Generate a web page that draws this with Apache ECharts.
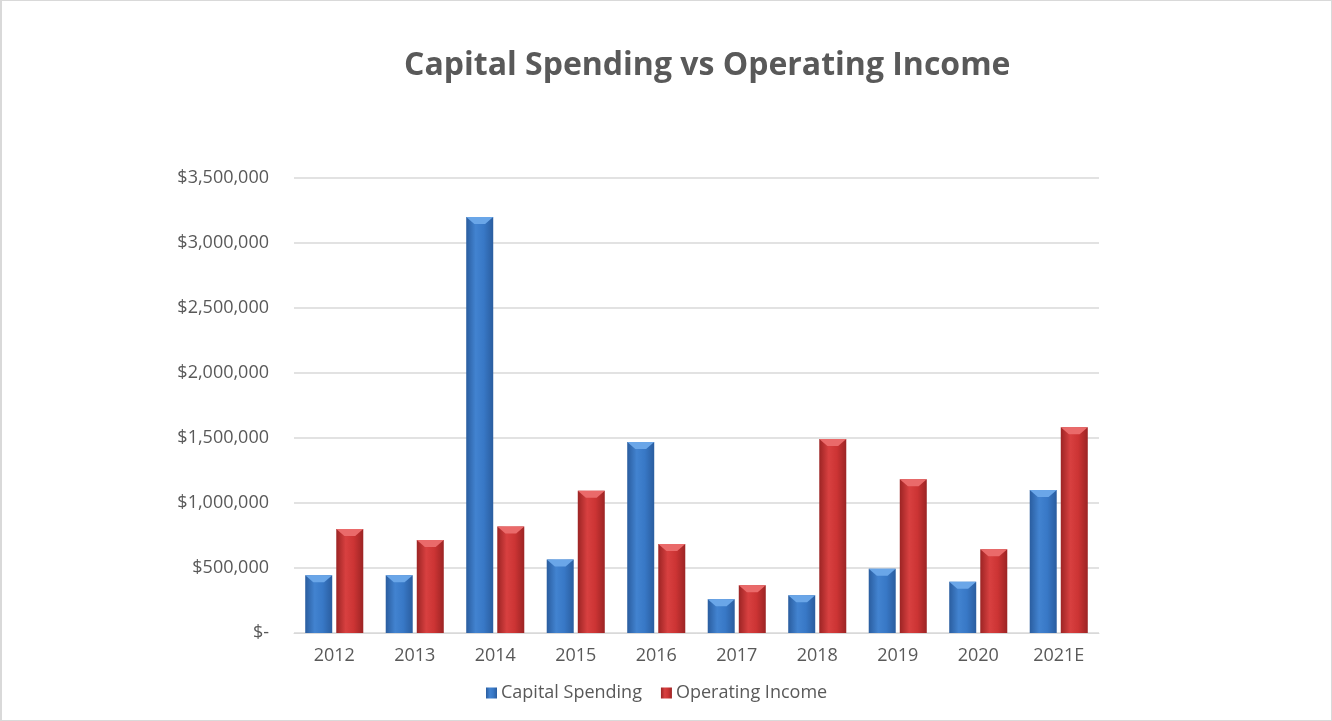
<!DOCTYPE html>
<html>
<head>
<meta charset="utf-8">
<script src="https://cdn.jsdelivr.net/npm/echarts@6/dist/echarts.min.js"></script>
<style>
  html, body { margin: 0; padding: 0; background: #ffffff; }
  #chart { width: 1332px; height: 721px; box-sizing: border-box; border: 1px solid #d9d9d9; border-left-width: 2px; }
</style>
</head>
<body>
<div id="chart"></div>
<script>
// Years on the category axis
const years = ['2012', '2013', '2014', '2015', '2016', '2017', '2018', '2019', '2020', '2021E'];
// Annual capital spending ($)
const capitalSpending = [445000, 445000, 3200000, 565000, 1470000, 260000, 290000, 495000, 395000, 1100000];
// Annual operating income ($)
const operatingIncome = [800000, 715000, 820000, 1095000, 685000, 368000, 1492000, 1182000, 645000, 1582000];
// Value axis ticks
const yMax = 3500000;
const yStep = 500000;

const FONT = '"Open Sans", Lato, sans-serif';
const TEXT = '#595959';

function sideGradient(edge, mid, light) {
  return new echarts.graphic.LinearGradient(0, 0, 1, 0, [
    { offset: 0, color: edge },
    { offset: 0.35, color: light },
    { offset: 0.65, color: mid },
    { offset: 1, color: edge }
  ]);
}

const blueFill = sideGradient('#2a5d9f', '#3878c6', '#4283d0');
const redFill = sideGradient('#9c2424', '#cc3434', '#d84040');

function money(v) {
  if (v === 0) return '$-';
  return '$' + v.toLocaleString('en-US');
}

const barCommon = {
  type: 'bar',
  barWidth: 27,
  barGap: '15%',
  barCategoryGap: '29%'
};

// Bevelled cap drawn on top of each bar
const capPath = 'path://M0,0 L10,0 L7,6 L3,6 Z';
const capCommon = {
  type: 'pictorialBar',
  symbol: capPath,
  symbolPosition: 'end',
  symbolSize: [27, 7],
  symbolOffset: [0, 0],
  barWidth: 27,
  barGap: '15%',
  barCategoryGap: '29%',
  z: 5,
  silent: true,
  legendHoverLink: false
};

const chart = echarts.init(document.getElementById('chart'), null, { renderer: 'canvas' });
chart.setOption({
  animation: false,
  backgroundColor: '#ffffff',
  title: {
    text: 'Capital Spending vs Operating Income',
    left: 397,
    top: 44,
    textStyle: { fontFamily: FONT, fontSize: 32, fontWeight: 'bold', color: TEXT }
  },
  grid: { left: 292, right: 232, top: 177, bottom: 87, containLabel: false },
  legend: {
    top: 678,
    left: 479,
    itemWidth: 11,
    itemHeight: 11,
    itemGap: 19,
    icon: 'rect',
    data: ['Capital Spending', 'Operating Income'],
    textStyle: { fontFamily: FONT, fontSize: 18, color: TEXT, padding: [0, 0, 0, -1] }
  },
  xAxis: {
    type: 'category',
    data: years,
    axisLine: { show: true, lineStyle: { color: '#d9d9d9', width: 1 } },
    axisTick: { show: false },
    axisLabel: { fontFamily: FONT, fontSize: 18, color: TEXT, margin: 14 }
  },
  yAxis: {
    type: 'value',
    min: 0,
    max: yMax,
    interval: yStep,
    axisLine: { show: false },
    axisTick: { show: false },
    splitLine: { lineStyle: { color: '#d9d9d9', width: 1.5 } },
    axisLabel: { fontFamily: FONT, fontSize: 18, color: TEXT, margin: 25, formatter: money }
  },
  series: [
    Object.assign({}, barCommon, {
      name: 'Capital Spending',
      data: capitalSpending,
      itemStyle: { color: blueFill }
    }),
    Object.assign({}, barCommon, {
      name: 'Operating Income',
      data: operatingIncome,
      itemStyle: { color: redFill }
    }),
    Object.assign({}, capCommon, {
      name: 'Capital Spending',
      data: capitalSpending,
      itemStyle: { color: '#6aa6e8' }
    }),
    Object.assign({}, capCommon, {
      name: 'Operating Income',
      data: operatingIncome,
      itemStyle: { color: '#ea6a6a' }
    })
  ]
});
</script>
</body>
</html>
